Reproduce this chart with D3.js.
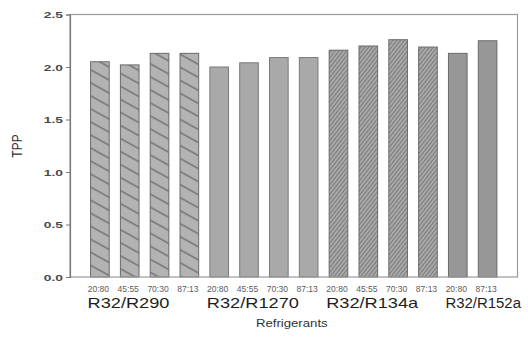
<!DOCTYPE html>
<html>
<head>
<meta charset="utf-8">
<script src="https://cdn.jsdelivr.net/npm/d3@7"></script>
<style>
  html, body { margin: 0; padding: 0; background: #fff; }
  svg { display: block; font-family: "Liberation Sans", Arial, Helvetica, sans-serif; }
</style>
</head>
<body>
<svg id="chart" width="528" height="337"></svg>
<script>
// Refrigerant mixtures, their mass ratios and the TPP of each
const refrigerants = ["R32/R290", "R32/R1270", "R32/R134a", "R32/R152a"];
const ratios = [
  ["20:80", "45:55", "70:30", "87:13"],
  ["20:80", "45:55", "70:30", "87:13"],
  ["20:80", "45:55", "70:30", "87:13"],
  ["20:80", "87:13"]
];
const tpp = [
  [2.05, 2.02, 2.13, 2.13],
  [2.00, 2.04, 2.09, 2.09],
  [2.16, 2.20, 2.26, 2.19],
  [2.13, 2.25]
];
const yTicks = [0.0, 0.5, 1.0, 1.5, 2.0, 2.5];

// one record per bar
const bars = [];
refrigerants.forEach((r, g) => {
  ratios[g].forEach((ratio, k) => {
    bars.push({ key: r + " " + ratio, group: g, ratio: ratio, value: tpp[g][k], first: k === 0 });
  });
});

const W = 528;
const svg = d3.select("#chart");
const plot = { left: 70, right: 517.5, top: 14.5, bottom: 277 };

const x = d3.scaleBand()
  .domain(bars.map(d => d.key))
  .range([plot.left, plot.right])
  .paddingInner(0.375)
  .paddingOuter(0.69);

const y = d3.scaleLinear()
  .domain([0, 2.5])
  .range([plot.bottom, plot.top]);

// fill patterns for the four mixture families
const defs = svg.append("defs");

const p1 = defs.append("pattern")
  .attr("id", "hatch-wide")
  .attr("patternUnits", "userSpaceOnUse")
  .attr("width", 12).attr("height", 11.4)
  .attr("patternTransform", "rotate(29)");
p1.append("rect").attr("width", 12).attr("height", 11.4).attr("fill", "#b3b3b3");
p1.append("line").attr("x1", 0).attr("x2", 12).attr("y1", 5.7).attr("y2", 5.7)
  .attr("stroke", "#6f6f6f").attr("stroke-width", 1.4);

const p3 = defs.append("pattern")
  .attr("id", "hatch-fine")
  .attr("patternUnits", "userSpaceOnUse")
  .attr("width", 6).attr("height", 3)
  .attr("patternTransform", "rotate(-52)");
p3.append("rect").attr("width", 6).attr("height", 3).attr("fill", "#b2b2b2");
p3.append("line").attr("x1", 0).attr("x2", 6).attr("y1", 1.5).attr("y2", 1.5)
  .attr("stroke", "#7a7a7a").attr("stroke-width", 1.3);

const fills = ["url(#hatch-wide)", "#a9a9a9", "url(#hatch-fine)", "#979797"];
const strokes = ["#6a6a6a", "#7a7a7a", "#6a6a6a", "#6a6a6a"];

// bars
svg.append("g").selectAll("rect")
  .data(bars)
  .join("rect")
  .attr("x", d => x(d.key))
  .attr("y", d => y(d.value))
  .attr("width", x.bandwidth())
  .attr("height", d => y(0) - y(d.value))
  .attr("fill", d => fills[d.group])
  .attr("stroke", d => strokes[d.group])
  .attr("stroke-width", 1);

// plot frame
svg.append("rect")
  .attr("x", plot.left).attr("y", plot.top)
  .attr("width", plot.right - plot.left)
  .attr("height", plot.bottom - plot.top)
  .attr("fill", "none")
  .attr("stroke", "#9a9a9a")
  .attr("stroke-width", 1.2);

// y axis
const yAxis = svg.append("g")
  .attr("transform", `translate(${plot.left},0)`)
  .call(d3.axisLeft(y).tickValues(yTicks).tickFormat(d3.format(".1f")).tickSize(4).tickPadding(3));
yAxis.select(".domain").attr("stroke", "#7a7a7a").attr("stroke-width", 1.2);
yAxis.selectAll(".tick line").attr("stroke", "#7a7a7a");
yAxis.selectAll(".tick text")
  .attr("fill", "#4a4a4a")
  .attr("font-size", 9.5)
  .attr("font-weight", "bold")
  .attr("font-family", "'Liberation Sans', Arial, sans-serif")
  .attr("x", -7 / 1.45)
  .attr("transform", "scale(1.45,1)");

// mass ratio under each bar
svg.append("g").selectAll("text")
  .data(bars)
  .join("text")
  .attr("x", d => x(d.key) + x.bandwidth() / 2 - 1.5)
  .attr("y", 292)
  .attr("text-anchor", "middle")
  .attr("font-size", 8.5)
  .attr("fill", "#5a5a5a")
  .text(d => d.ratio);

// mixture names, starting under the first bar of each family;
// the last one is squeezed so it stays inside the page
svg.append("g").selectAll("text")
  .data(bars.filter(d => d.first))
  .join("text")
  .attr("font-size", 14)
  .attr("fill", "#1e1e1e")
  .text(d => refrigerants[d.group])
  .each(function (d) {
    const x0 = x(d.key) - 3;
    const natural = this.getComputedTextLength();
    const sx = Math.min(1.3, (W - 7 - x0) / natural);
    d3.select(this).attr("transform", `translate(${x0},307.5) scale(${sx},1)`);
  });

// axis titles
svg.append("text")
  .attr("transform", `translate(${(plot.left + plot.right) / 2 - 2},327) scale(1.2,1)`)
  .attr("text-anchor", "middle")
  .attr("font-size", 11)
  .attr("fill", "#333")
  .text("Refrigerants");

svg.append("text")
  .attr("transform", "translate(22,146) rotate(-90) scale(1,1.25)")
  .attr("text-anchor", "middle")
  .attr("font-size", 12)
  .attr("fill", "#333")
  .text("TPP");
</script>
</body>
</html>
